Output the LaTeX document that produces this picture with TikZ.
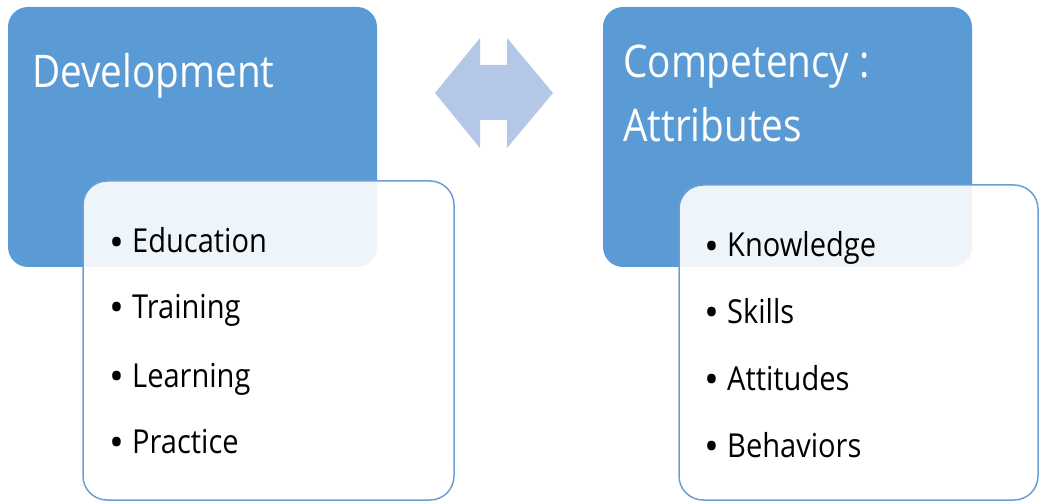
\documentclass[tikz,border=0pt]{standalone}
\usepackage{fontspec}
\usepackage{graphicx}
\setmainfont{Open Sans}
\definecolor{hdrblue}{HTML}{5B9BD5}
\definecolor{arrblue}{HTML}{B4C7E7}
\definecolor{edgeblue}{HTML}{6A9FD4}
\newcommand\sqz[1]{\scalebox{0.86}[1]{#1}}
\tikzset{
  hdrbox/.style={fill=hdrblue, draw=none, rounded corners=20pt, minimum width=369pt, minimum height=260pt, inner sep=0pt},
  listbox/.style={fill=white, fill opacity=0.9, draw=edgeblue, line width=1.5pt, rounded corners=24pt, inner sep=0pt},
  hdrtext/.style={anchor=base west, inner sep=0pt, text=white, font=\fontsize{45}{54}\selectfont},
  itemtext/.style={anchor=base west, inner sep=0pt, text=black, font=\fontsize{33}{40}\selectfont},
}
\newcommand\itm[1]{\makebox[23pt][l]{\raisebox{-3.5pt}{\scalebox{1.2}{\textbullet}}}\scalebox{0.88}[1]{#1}}
\begin{document}
\begin{tikzpicture}[x=1pt,y=-1pt]
\useasboundingbox (0,0) rectangle (1040,502);
% header boxes
\node[hdrbox] (lhdr) at (192.5,137) {};
\node[hdrbox] (rhdr) at (787.5,137) {};
% list boxes
\node[listbox, minimum width=371pt, minimum height=319pt] (llist) at (268.5,340.5) {};
\node[listbox, minimum width=359pt, minimum height=315pt] (rlist) at (858.5,342.5) {};
% double arrow
\fill[arrblue] (435,93) -- (480,38) -- (480,65) -- (507,65) -- (507,38) -- (553,93)
  -- (507,148) -- (507,120) -- (480,120) -- (480,148) -- cycle;
% titles
\node[hdrtext] (t1) at (32,88) {\sqz{Development}};
\node[hdrtext] (t2) at (623,78) {\sqz{Competency :}};
\node[hdrtext] (t3) at (623,142) {\sqz{Attributes}};
% left items
\node[itemtext] (a1) at (109,253) {\itm{Education}};
\node[itemtext] (a2) at (109,318) {\itm{Training}};
\node[itemtext] (a3) at (109,387) {\itm{Learning}};
\node[itemtext] (a4) at (109,453) {\itm{Practice}};
% right items
\node[itemtext] (b1) at (704,257) {\itm{Knowledge}};
\node[itemtext] (b2) at (704,323) {\itm{Skills}};
\node[itemtext] (b3) at (704,390) {\itm{Attitudes}};
\node[itemtext] (b4) at (704,457) {\itm{Behaviors}};
\end{tikzpicture}
\end{document}
